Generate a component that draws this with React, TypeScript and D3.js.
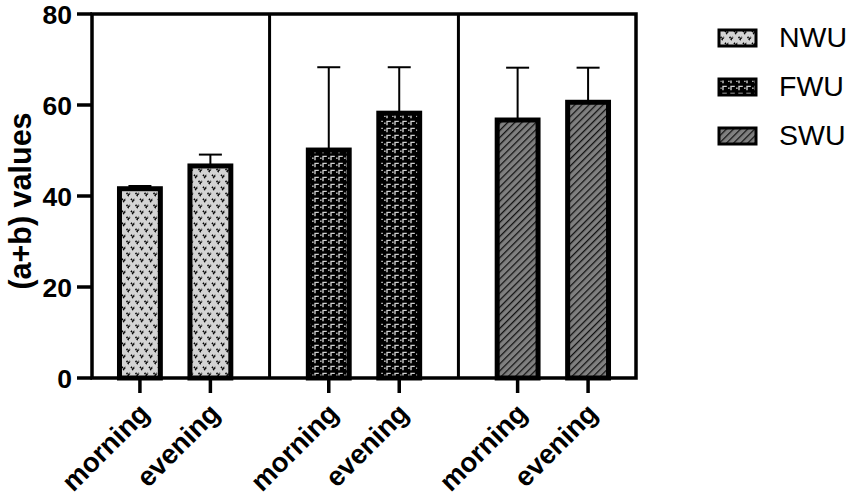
import * as d3 from "d3";
import React from "react";

// values
const groups = ["NWU", "FWU", "SWU"];
const times = ["morning", "evening"];
const meanNWU = [41.6, 46.6];
const meanFWU = [50.1, 58.2];
const meanSWU = [56.7, 60.6];
const sdNWU = [0.6, 2.5];
const sdFWU = [18.2, 10.1];
const sdSWU = [11.5, 7.6];
const yTicks = [0, 20, 40, 60, 80];

const means = [meanNWU, meanFWU, meanSWU];
const sds = [sdNWU, sdFWU, sdSWU];
const GROUP_STEP = 2.68; // slot offset between groups (in bar steps)

const W = 851, H = 499;
const font = "'Liberation Sans', Arial, sans-serif";

const bars = groups.flatMap((g, gi) =>
  times.map((t, ti) => ({ group: g, gi, time: t, slot: gi * GROUP_STEP + ti, mean: means[gi][ti], sd: sds[gi][ti] }))
);

export default function App() {
  const x = d3.scaleLinear().domain([-0.68, 2 * GROUP_STEP + 1.68]).range([92, 636]);
  const y = d3.scaleLinear().domain([0, 80]).range([378, 14]);
  const barW = x(0.58) - x(0);
  const dividers = [0, 1].map(i => x((i * GROUP_STEP + 1 + (i + 1) * GROUP_STEP) / 2));
  const [x0, x1] = x.range();
  const [yb, yt] = y.range();

  return (
    <svg width={W} height={H} style={{ position: "absolute", left: 0, top: 0, background: "#fff" }} fontFamily={font}>
      <defs>
        <pattern id="p-NWU" width={9} height={12} patternUnits="userSpaceOnUse">
          <rect width={9} height={12} fill="#d4d4d4" />
          <path d="M0.6,0.8 L2.3,3.4 L4,0.8 M5.1,6.8 L6.8,9.4 L8.5,6.8" stroke="#000" strokeWidth={1.6} fill="none" strokeDasharray="1.4 0.6" />
        </pattern>
        <pattern id="p-FWU" width={8} height={7} patternUnits="userSpaceOnUse">
          <rect width={8} height={7} fill="#000" />
          <path d="M3,6.2 V2.4 H6.8" stroke="#cfcfcf" strokeWidth={1.4} fill="none" />
          <rect x={0.1} y={3.5} width={1.5} height={1.4} fill="#cfcfcf" />
        </pattern>
        <pattern id="p-SWU" width={5} height={5} patternUnits="userSpaceOnUse" patternTransform="rotate(45)">
          <rect width={5} height={5} fill="#808080" />
          <line x1={0.6} x2={0.6} y1={0} y2={5} stroke="#111" strokeWidth={1.3} />
        </pattern>
      </defs>

      {/* bars */}
      {bars.map(b => (
        <g key={b.group + b.time}>
          <line x1={x(b.slot)} x2={x(b.slot)} y1={y(b.mean)} y2={y(b.mean + b.sd)} stroke="#000" strokeWidth={2} />
          <line x1={x(b.slot) - 11.5} x2={x(b.slot) + 11.5} y1={y(b.mean + b.sd)} y2={y(b.mean + b.sd)} stroke="#000" strokeWidth={2} />
          <rect x={x(b.slot) - barW / 2} y={y(b.mean)} width={barW} height={y(0) - y(b.mean)}
            fill={`url(#p-${b.group})`} stroke="#000" strokeWidth={5} />
        </g>
      ))}

      {/* frame and dividers */}
      <rect x={x0} y={yt} width={x1 - x0} height={yb - yt} fill="none" stroke="#000" strokeWidth={3.5} />
      {dividers.map((d, i) => (
        <line key={i} x1={d} x2={d} y1={yt} y2={yb} stroke="#000" strokeWidth={3} />
      ))}

      {/* y axis */}
      {yTicks.map(t => (
        <g key={t}>
          <line x1={x0 - 15} x2={x0} y1={y(t)} y2={y(t)} stroke="#000" strokeWidth={3.5} />
          <text x={x0 - 20} y={y(t)} dy="0.36em" textAnchor="end" fontSize={26.5} fontWeight="bold">{t}</text>
        </g>
      ))}
      <text transform={`translate(31,${(yb + yt) / 2 + 5}) rotate(-90)`} textAnchor="middle" fontSize={30.5} fontWeight="bold">(a+b) values</text>

      {/* x axis */}
      {bars.map(b => (
        <g key={"t" + b.group + b.time}>
          <line x1={x(b.slot)} x2={x(b.slot)} y1={yb} y2={yb + 15} stroke="#000" strokeWidth={3.5} />
          <text transform={`translate(${x(b.slot) + 11},${yb + 37}) rotate(-45)`} textAnchor="end" fontSize={27.5} fontWeight="bold">{b.time}</text>
        </g>
      ))}

      {/* legend */}
      {groups.map((g, i) => (
        <g key={g} transform={`translate(0,${i * 49})`}>
          <rect x={719} y={30} width={37} height={16} fill={`url(#p-${g})`} stroke="#000" strokeWidth={3} />
          <text x={779} y={47} fontSize={28.5}>{g}</text>
        </g>
      ))}
    </svg>
  );
}
